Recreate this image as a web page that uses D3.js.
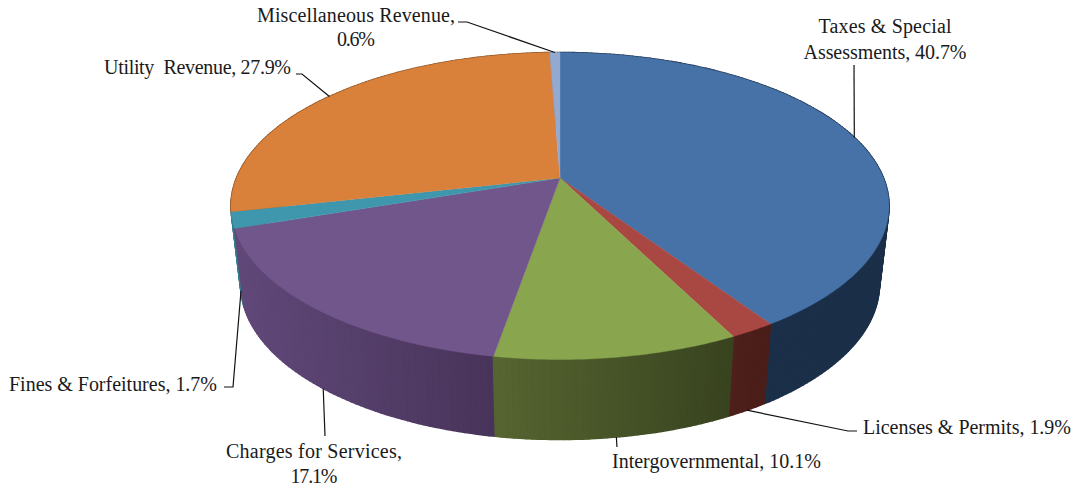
<!DOCTYPE html>
<html><head><meta charset="utf-8">
<script src="https://cdn.jsdelivr.net/npm/d3@7"></script>
<style>html,body{margin:0;padding:0;background:#fff}svg{display:block}text{font-family:"Liberation Serif",serif;font-size:20px;fill:#1a1a1a}</style>
</head><body><script>
const categories = ["Taxes & Special Assessments","Licenses & Permits","Intergovernmental","Charges for Services","Fines & Forfeitures","Utility Revenue","Miscellaneous Revenue"];
const values = [40.7,1.9,10.1,17.1,1.7,27.9,0.6];
const topColors = ["#4672a7","#a94743","#89a54e","#71568b","#3f97ae","#d9803b","#93a9cf"];
const sideStart = ["#1b2f49","#4e1f1b","#566531","#61497a","#3f97ae","#8a5226","#5e6c85"];
const sideEnd = ["#1b2f49","#4a1e1a","#38431f","#48345a","#2c6a7a","#8a5226","#5e6c85"];
const labelLines = [["Taxes & Special","Assessments, 40.7%"],["Licenses & Permits, 1.9%"],["Intergovernmental, 10.1%"],["Charges for Services,","17.1%"],["Fines & Forfeitures, 1.7%"],["Utility  Revenue, 27.9%"],["Miscellaneous Revenue,","0.6%"]];

const W=1076,H=486;
const svg=d3.select("body").append("svg").attr("width",W).attr("height",H);
const k=0.1825, cx=560;
const rimTop={A:323.5,B:148.4,cy:178}, rimBot={A:314,B:150,cy:256};
function project(a,r,rim){
  const u=r*Math.sin(a), v=-r*Math.cos(a), d=1-k*v;
  return [cx+rim.A*u/d, rim.cy+rim.B*v/d];
}
const pie=d3.pie().sort(null).value(d=>d);
const arcs=pie(values);
const line=d3.line();
const samples=(s,e)=>d3.range(0,1.0001,1/Math.max(4,Math.ceil((e-s)*60))).map(d3.interpolateNumber(s,e));

// outer wall: one quad per angle step, painted back to front
const strips=[];
arcs.forEach((d,i)=>{
  const as=samples(d.startAngle,d.endAngle);
  const xs=as.flatMap(a=>[project(a,1,rimTop)[0],project(a,1,rimBot)[0]]);
  const color=d3.scaleLinear().domain(d3.extent(xs)).range([sideStart[i],sideEnd[i]]);
  d3.pairs(as).forEach(([a,b])=>{
    const q=[project(a,1,rimTop),project(b,1,rimTop),project(b,1,rimBot),project(a,1,rimBot)];
    strips.push({q,depth:-Math.cos((a+b)/2),fill:color(d3.mean(q,p=>p[0]))});
  });
});
strips.sort((a,b)=>a.depth-b.depth);
svg.append("g").selectAll("path").data(strips).join("path")
  .attr("d",s=>line(s.q)+"Z").attr("fill",s=>s.fill).attr("stroke",s=>s.fill).attr("stroke-width",1.6).attr("stroke-linejoin","round");
// top face
arcs.forEach((d,i)=>{
  const pts=[[cx,rimTop.cy]].concat(samples(d.startAngle,d.endAngle).map(a=>project(a,1,rimTop)));
  svg.append("path").attr("d",line(pts)+"Z").attr("fill",topColors[i]).attr("stroke",topColors[i]).attr("stroke-width",0.4);
});
// leaders: rim anchor at slice mid angle, then elbow points
const leaderRim=[0,1,1,1,0.9,0,0];
const leaderElbows=[[[854,65]],[[848,431],[857,431]],[[617,447]],[[325,436]],[[233,387],[224,387]],[[302,74],[296,74]],[[467,22],[458,22]]];
arcs.forEach((d,i)=>{
  const m=(d.startAngle+d.endAngle)/2, p0=project(m,1,rimTop), p1=project(m,1,rimBot);
  const a=[p0[0]+(p1[0]-p0[0])*leaderRim[i],p0[1]+(p1[1]-p0[1])*leaderRim[i]];
  svg.append("path").attr("d",line([a].concat(leaderElbows[i]))).attr("fill","none").attr("stroke","#111").attr("stroke-width",1.2);
});
// labels
const labelX=[885,863,612,314,9,104,356], labelY=[33,434,468,458,391,74,22], labelAnchor=["middle","start","start","middle","start","start","middle"];
const lineGap=[26,0,0,25,0,0,24];
const lineWidths=[[133,163],[208],[209],[176,47],[208],[187],[198,38]];
labelLines.forEach((ls,i)=>{
  ls.forEach((s,j)=>svg.append("text").attr("text-anchor",labelAnchor[i]).attr("x",labelX[i]).attr("y",labelY[i]+j*lineGap[i])
    .attr("xml:space","preserve").attr("textLength",lineWidths[i][j]).attr("lengthAdjust","spacing").text(s));
});
</script></body></html>
